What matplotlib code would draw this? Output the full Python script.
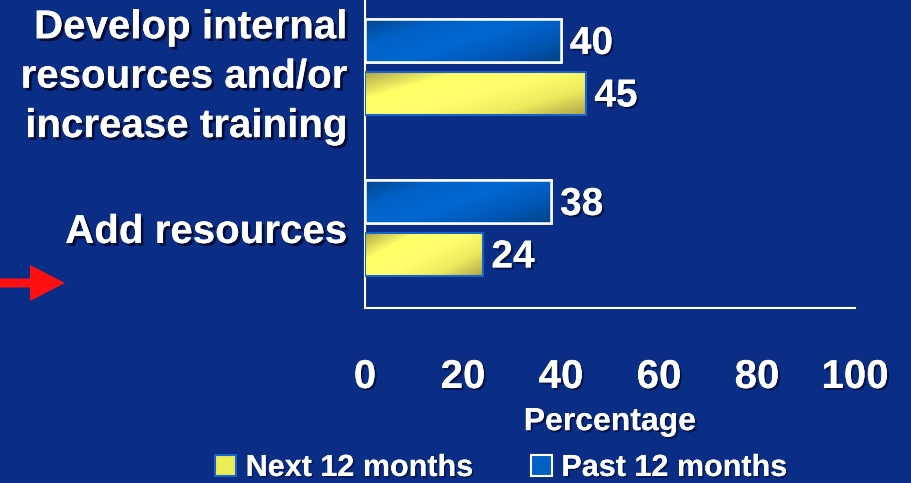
import numpy as np
import matplotlib
matplotlib.use("Agg")
import matplotlib.pyplot as plt
import matplotlib.patches as mpatches
import matplotlib.patheffects as pe
from matplotlib.colors import LinearSegmentedColormap

categories = ["Develop internal\nresources and/or\nincrease training", "Add resources"]
past_12 = [40, 38]
next_12 = [45, 24]
xticks = [0, 20, 40, 60, 80, 100]
series_names = ["Next 12 months", "Past 12 months"]

BG = "#0a2d86"
FONT = "Liberation Sans"

fig = plt.figure(figsize=(9.11, 4.83), dpi=100, facecolor=BG)
ax = fig.add_axes([365/911, 1 - 308/483, (855-365)/911, 308/483])
ax.set_facecolor(BG)

y = np.arange(len(categories))
h = 0.267
off = 0.163

blue_cmap = LinearSegmentedColormap.from_list("b", ["#00468f", "#0062c8", "#0068d2", "#0058b8", "#00448a"])
yel_cmap = LinearSegmentedColormap.from_list("y", ["#b0a84c", "#ffff66", "#ffff70", "#ecec5e", "#b0a648"])

bars_p = ax.barh(y - off, past_12, height=h, color="#0062c8", edgecolor="white", linewidth=1.8, zorder=3)
bars_n = ax.barh(y + off, next_12, height=h, color="#ffff66", edgecolor="#1a64c8", linewidth=1.5, zorder=3)

gx, gy = np.meshgrid(np.linspace(0, 1, 200), np.linspace(0, 1, 40))
grad = (gx * 0.6 + gy * 0.4)
for bars, cmap in ((bars_p, blue_cmap), (bars_n, yel_cmap)):
    for b in bars:
        x0, y0 = b.get_x(), b.get_y()
        w, hh = b.get_width(), b.get_height()
        im = ax.imshow(grad, cmap=cmap, extent=[x0, x0 + w, y0, y0 + hh],
                       aspect="auto", origin="lower", zorder=3.5, interpolation="bilinear")
        im.set_clip_path(b)
        b2 = mpatches.Rectangle((x0, y0), w, hh, fill=False,
                                edgecolor=b.get_edgecolor(), linewidth=b.get_linewidth(), zorder=4)
        ax.add_patch(b2)

ax.set_xlim(0, 100)
ax.set_ylim(1.497, -0.416)

def shad(off=1.5, a=0.7):
    return [pe.withSimplePatchShadow(offset=(off, -off), shadow_rgbFace="#000a30", alpha=a), pe.Normal()]

for bars, vals in ((bars_p, past_12), (bars_n, next_12)):
    for b, v in zip(bars, vals):
        t = ax.text(v + 1.8, b.get_y() + b.get_height() / 2 + 0.02, str(v), color="white",
                    fontsize=28, fontweight="bold", family=FONT, va="center", ha="left", zorder=5)
        t.set_path_effects(shad(1.5, 0.7))

ax.set_yticks(y)
ax.set_yticklabels(categories)
ax.set_xticks(xticks)
ax.set_xticklabels([str(t) for t in xticks])
for lab in ax.get_yticklabels():
    lab.set_fontsize(29)
    lab.set_fontweight("bold")
    lab.set_family(FONT)
    lab.set_color("white")
    lab.set_linespacing(1.38)
    lab.set_path_effects(shad(2, 0.9))
for lab in ax.get_xticklabels():
    lab.set_fontsize(29)
    lab.set_fontweight("bold")
    lab.set_family(FONT)
    lab.set_color("white")
    lab.set_path_effects(shad(1.5, 0.7))
ax.tick_params(axis="y", length=0, pad=13)
ax.tick_params(axis="x", length=0, pad=36)

ax.set_xlabel("Percentage", color="white", fontsize=23, fontweight="bold", family=FONT, labelpad=8)
ax.xaxis.label.set_path_effects(shad(1.5, 0.7))

for s in ["top", "right"]:
    ax.spines[s].set_visible(False)
for s in ["left", "bottom"]:
    ax.spines[s].set_color("white")
    ax.spines[s].set_linewidth(1.5)

handles = [mpatches.Patch(facecolor="#ecec58", edgecolor="#1a64c8", linewidth=1.5),
           mpatches.Patch(facecolor="#0060c4", edgecolor="white", linewidth=1.5)]
leg = fig.legend(handles, series_names, loc="center", bbox_to_anchor=(501/911, 1 - 468/483),
                 ncol=2, frameon=False, handlelength=0.7, handleheight=0.7, handletextpad=0.3,
                 columnspacing=1.9, prop={"family": FONT, "weight": "bold", "size": 22})
for t in leg.get_texts():
    t.set_color("white")
    t.set_path_effects(shad(1.2, 0.6))

arrow = mpatches.FancyArrow(0 / 911, 1 - 283/483, 65/911, 0, width=9/483, head_width=36/483,
                            head_length=35/911, length_includes_head=True,
                            transform=fig.transFigure, color="#ff1010", linewidth=0)
fig.patches.append(arrow)

fig.savefig("out.png", dpi=100, facecolor=BG)
